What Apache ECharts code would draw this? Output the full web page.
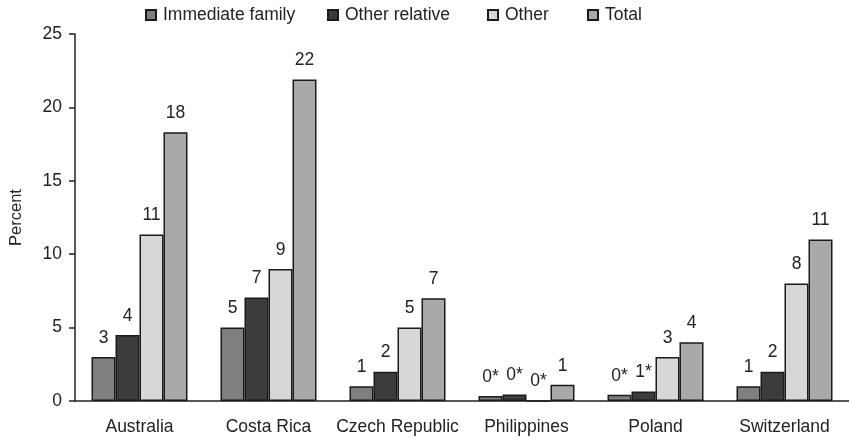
<!DOCTYPE html>
<html>
<head>
<meta charset="utf-8">
<script src="https://cdn.jsdelivr.net/npm/echarts@6/dist/echarts.min.js"></script>
<style>html,body{margin:0;padding:0;background:#fff;}#c{width:849px;height:439px;}</style>
</head>
<body>
<div id="c"></div>
<script>
const categories = ['Australia', 'Costa Rica', 'Czech Republic', 'Philippines', 'Poland', 'Switzerland'];
const seriesNames = ['Immediate family', 'Other relative', 'Other', 'Total'];
const immediateFamily = [3.0, 5.0, 1.0, 0.34, 0.42, 1.0];
const otherRelative = [4.5, 7.05, 2.0, 0.45, 0.65, 2.0];
const other = [11.35, 9.0, 5.0, 0, 3.0, 8.0];
const total = [18.3, 21.9, 7.0, 1.1, 4.0, 11.0];
const immediateLabels = ['3', '5', '1', '0*', '0*', '1'];
const otherRelativeLabels = ['4', '7', '2', '0*', '1*', '2'];
const otherLabels = ['11', '9', '5', '0*', '3', '8'];
const totalLabels = ['18', '22', '7', '1', '4', '11'];
const yTicks = [0, 5, 10, 15, 20, 25];

const colors = ['#7f7f7f', '#3b3c3c', '#d6d7d9', '#a9a9ab'];
const values = [immediateFamily, otherRelative, other, total];
const labels = [immediateLabels, otherRelativeLabels, otherLabels, totalLabels];
const legendLefts = [145, 327, 487, 587];
const font = 'Liberation Sans, Arial, sans-serif';
const fs = 17.5;

const chart = echarts.init(document.getElementById('c'), null, {renderer: 'canvas'});
chart.setOption({
  animation: false,
  backgroundColor: '#fff',
  textStyle: {fontFamily: font},
  legend: seriesNames.map((name, i) => ({
    top: 6, left: legendLefts[i], padding: 0,
    itemWidth: 10, itemHeight: 10,
    icon: 'rect',
    textStyle: {fontSize: fs, color: '#222', fontFamily: font, padding: [0, 0, 0, 2]},
    data: [name]
  })),
  grid: {left: 69, top: 34, width: 783, height: 367, containLabel: false},
  xAxis: {
    type: 'category', data: categories,
    axisLine: {lineStyle: {color: '#222', width: 1.5}},
    axisTick: {show: false},
    axisLabel: {fontSize: fs, color: '#222', margin: 17, interval: 0, fontFamily: font}
  },
  yAxis: {
    type: 'value', min: yTicks[0], max: yTicks[yTicks.length - 1], interval: 5,
    name: 'Percent', nameLocation: 'middle', nameGap: 50,
    nameTextStyle: {fontSize: 16.5, color: '#222', fontFamily: font},
    axisLine: {show: true, lineStyle: {color: '#222', width: 1.5}},
    axisTick: {show: true, length: 6, lineStyle: {color: '#222', width: 1.5}},
    axisLabel: {fontSize: fs, color: '#222', margin: 13, fontFamily: font},
    splitLine: {show: false}
  },
  series: seriesNames.map((name, i) => ({
    name: name, type: 'bar',
    barWidth: 24, barGap: '0%',
    data: values[i],
    itemStyle: {color: colors[i], borderColor: '#1a1a1a', borderWidth: 1.5},
    label: {
      show: true, position: 'top', distance: 10,
      fontSize: fs, color: '#222', fontFamily: font,
      formatter: p => labels[i][p.dataIndex]
    }
  }))
});
</script>
</body>
</html>
